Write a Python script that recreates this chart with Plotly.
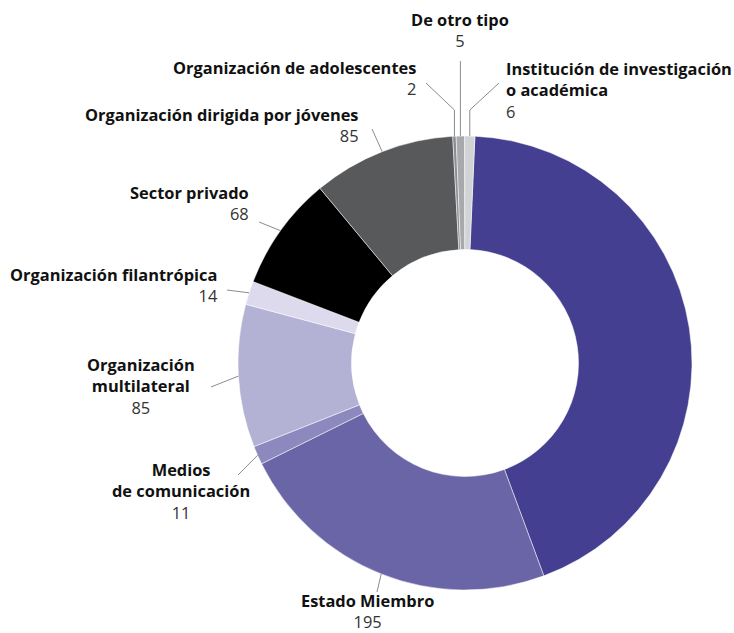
import math
import plotly.graph_objects as go

# ---- data (clockwise from 12 o'clock) ----
categories = [
    "Organización de la sociedad civil",
    "Estado Miembro",
    "Medios de comunicación",
    "Organización multilateral",
    "Organización filantrópica",
    "Sector privado",
    "Organización dirigida por jóvenes",
    "Organización de adolescentes",
    "De otro tipo",
    "Institución de investigación o académica",
]
values = [365, 195, 11, 85, 14, 68, 85, 2, 5, 6]
label_lines = [
    None,
    ["Estado Miembro"],
    ["Medios", "de comunicación"],
    ["Organización", "multilateral"],
    ["Organización filantrópica"],
    ["Sector privado"],
    ["Organización dirigida por jóvenes"],
    ["Organización de adolescentes"],
    ["De otro tipo"],
    ["Institución de investigación", "o académica"],
]
colors = ["#443f90", "#6a65a7", "#8d89bf", "#b3b2d4", "#dddaed",
          "#000000", "#58595b", "#8c8d90", "#a8a9ad", "#d2d3d5"]

W, H = 734, 633
CX, CY, R = 465, 363, 227
ROT = 2.5

# label layout: (x, y_center, xanchor, align) in pixels
label_pos = [
    None,
    (367, 611, "center", "center"),
    (181, 491, "center", "center"),
    (141, 386, "center", "center"),
    (220, 285, "right", "right"),
    (251, 203, "right", "right"),
    (361, 125, "right", "right"),
    (418, 78, "right", "right"),
    (460, 30, "center", "center"),
    (504, 90, "left", "left"),
]
# leader line end points (near label), and optional elbow y for top labels
leader_end = [
    None,
    (377, 592, None),
    (238, 475, None),
    (211, 387, None),
    (227, 290, None),
    (259, 222, None),
    (372, 129, None),
    (426, 83, 110),
    (None, 61, None),
    (499, 83, 110),
]

def px(x):
    return x / W

def py(y):
    return 1 - y / H

fig = go.Figure(go.Pie(
    labels=categories, values=values, sort=False, direction="clockwise",
    rotation=ROT, hole=0.5, textinfo="none",
    marker=dict(colors=colors, line=dict(color="white", width=0.5)),
    domain=dict(x=[px(CX - R), px(CX + R)], y=[py(CY + R), py(CY - R)]),
    showlegend=False, hoverinfo="label+value",
))

total = sum(values)
cum = 0.0
annotations = []
shapes = []
for i, v in enumerate(values):
    a0 = ROT + cum / total * 360
    cum += v
    a1 = ROT + cum / total * 360
    if label_lines[i] is None:
        continue
    mid = math.radians((a0 + a1) / 2)
    sx = CX + R * math.sin(mid)
    sy = CY - R * math.cos(mid)
    ex, ey, elbow = leader_end[i]
    if ex is None:
        ex = sx
    if elbow is not None:
        path = f"M {px(sx)} {py(sy)} L {px(sx)} {py(elbow)} L {px(ex)} {py(ey)}"
    else:
        path = f"M {px(sx)} {py(sy)} L {px(ex)} {py(ey)}"
    shapes.append(dict(type="path", xref="paper", yref="paper", path=path,
                       line=dict(color="#8c8c8c", width=1)))
    lx, ly, xa, al = label_pos[i]
    txt = "<br>".join(f"<b>{t}</b>" for t in label_lines[i])
    txt += f"<br><span style='color:#333333'>{v}</span>"
    annotations.append(dict(
        x=px(lx), y=py(ly), xref="paper", yref="paper", text=txt,
        xanchor=xa, yanchor="middle", align=al, showarrow=False,
        font=dict(family="Open Sans, sans-serif", size=16.4, color="#111111"),
    ))

fig.update_layout(
    width=W, height=H, margin=dict(l=0, r=0, t=0, b=0),
    paper_bgcolor="white", plot_bgcolor="white",
    annotations=annotations, shapes=shapes,
)
fig.write_html("out.html", config={"displayModeBar": False},
               post_script="document.body.style.margin='0';")
